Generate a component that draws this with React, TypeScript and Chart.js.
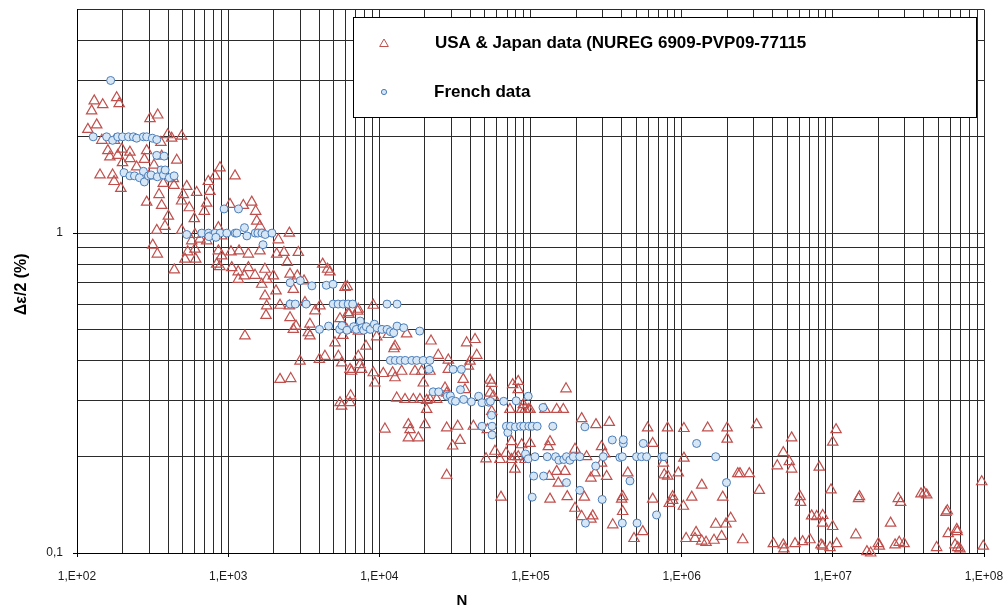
import React, { useEffect, useRef } from 'react';
import { Chart, registerables } from 'chart.js';

Chart.register(...registerables);

const FONT = '"Liberation Sans", Arial, Helvetica, sans-serif';

// ---------- axis ticks ----------
const xDecades = [1e2, 1e3, 1e4, 1e5, 1e6, 1e7, 1e8];
const xTickLabels = ['1,E+02', '1,E+03', '1,E+04', '1,E+05', '1,E+06', '1,E+07', '1,E+08'];
const minorSteps = [2, 3, 4, 5, 6, 7, 8, 9];
const yMajorValues = [0.1, 1];
const yTickLabels = ['0,1', '1'];
const yMinorValues = [0.2, 0.3, 0.4, 0.5, 0.6, 0.7, 0.8, 0.9, 2, 3, 4, 5];
const xMin = 1e2;
const xMax = 1e8;
const yMin = 0.1;
const yMax = 5;

// ---------- series labels ----------
const usaJapanLabel = 'USA & Japan data (NUREG 6909-PVP09-77115';
const frenchLabel = 'French data';
const xTitle = 'N';
const yTitle = 'Δε/2 (%)';

// ---------- USA & Japan data [N, strain amplitude %] ----------
const usaJapanDecade2: [number, number][] = [
  [130, 2.59], [148, 2.52], [125, 2.41], [183, 2.65], [190, 2.54], [304, 2.28], [342, 2.34], [118, 2.11],
  [135, 2.18], [146, 1.95], [160, 1.81], [165, 1.73], [177, 1.95], [198, 1.83], [186, 1.75], [224, 1.79],
  [224, 1.71], [200, 1.66], [279, 1.7], [323, 1.63], [363, 1.74], [398, 2.03], [423, 1.98], [492, 2.01],
  [457, 1.69], [359, 1.92], [142, 1.52], [172, 1.52], [176, 1.45], [195, 1.38], [248, 1.61], [299, 1.51],
  [434, 1.48], [372, 1.43], [438, 1.41], [739, 1.45], [532, 1.4], [619, 1.34], [758, 1.35], [349, 1.32],
  [289, 1.25], [363, 1.22], [505, 1.32], [492, 1.26], [553, 1.2], [721, 1.24], [695, 1.17], [597, 1.11],
  [402, 1.13], [382, 1.05], [337, 1.02], [492, 1.02], [603, 0.99], [651, 0.957], [574, 0.946], [861, 1.04],
  [906, 0.98], [721, 0.946], [317, 0.917], [340, 0.86], [540, 0.874], [603, 0.891], [610, 0.829], [518, 0.829],
  [440, 0.767], [861, 0.88], [906, 0.849], [839, 0.8], [880, 0.786], [883, 1.6], [818, 1.51], [289, 1.81],
];
const usaJapanDecade3: [number, number][] = [
  [1110, 1.51], [1028, 1.23], [1432, 1.25], [1260, 1.22], [1520, 1.17], [1545, 1.09], [1623, 1.05], [1044, 0.874],
  [1180, 0.88], [1360, 0.86], [1623, 0.88], [1056, 0.78], [1165, 0.757], [1360, 0.78], [1505, 0.738], [1750, 0.771],
  [1800, 0.717], [1167, 0.717], [1279, 0.735], [1667, 0.692], [1753, 0.636], [1798, 0.592], [1780, 0.553], [1990, 0.735],
  [2072, 0.66], [2094, 0.86], [2340, 0.87], [2461, 0.81], [2566, 0.744], [2911, 0.87], [2866, 0.735], [1291, 0.477],
  [2203, 0.349], [2593, 0.351], [2987, 0.398], [2697, 0.667], [2537, 0.592], [2566, 0.544], [2697, 0.5], [2810, 0.512],
  [3222, 0.607], [3388, 0.488], [3475, 0.477], [3752, 0.571], [4048, 0.592], [4218, 0.8], [4550, 0.771], [4367, 0.412],
  [5358, 0.412], [5636, 0.393], [5925, 0.676], [5090, 0.454], [5495, 0.295], [5636, 0.288], [6395, 0.375], [2540, 1.0],
  [2147, 0.953], [3175, 0.709], [2203, 0.595], [3475, 0.519], [5495, 0.54], [6240, 0.564], [7190, 0.57], [6080, 0.5],
  [7260, 0.494], [4010, 0.403], [7260, 0.412], [4717, 0.756], [6137, 0.68], [7255, 0.578], [9120, 0.595], [6280, 0.557],
  [5740, 0.479], [8160, 0.443], [9610, 0.474], [6560, 0.37], [7450, 0.388], [7640, 0.375], [9120, 0.366], [9330, 0.34],
  [6400, 0.295], [6460, 0.31],
];
const usaJapanDecade4: [number, number][] = [
  [11460, 0.482], [12700, 0.443], [12500, 0.435], [15160, 0.484], [21980, 0.46], [24530, 0.415], [28600, 0.401], [37800, 0.454],
  [42970, 0.465], [44100, 0.415], [39800, 0.398], [38800, 0.384], [35900, 0.349], [54000, 0.347], [76200, 0.336], [82900, 0.344],
  [82900, 0.324], [10620, 0.364], [12250, 0.366], [12700, 0.353], [14060, 0.37], [17200, 0.37], [19060, 0.37], [19540, 0.34],
  [21630, 0.37], [28600, 0.375], [13030, 0.305], [14790, 0.302], [16790, 0.302], [18570, 0.302], [20560, 0.3], [20560, 0.281],
  [21630, 0.302], [23960, 0.302], [27200, 0.328], [27900, 0.316], [36860, 0.324], [54000, 0.316], [55400, 0.339], [56800, 0.309],
  [96700, 0.281], [89600, 0.291], [10890, 0.244], [15560, 0.252], [15960, 0.243], [15560, 0.229], [18110, 0.229], [20050, 0.252],
  [27900, 0.246], [33000, 0.249], [34200, 0.225], [30550, 0.216], [41900, 0.249], [51800, 0.243], [55400, 0.277], [73100, 0.281],
  [87500, 0.281], [92000, 0.281], [99300, 0.281], [75000, 0.223], [87500, 0.218], [99300, 0.22], [50800, 0.197], [58200, 0.208],
  [62800, 0.196], [75000, 0.196], [78900, 0.2], [83000, 0.2], [92000, 0.196], [27900, 0.175], [78900, 0.183], [63800, 0.1495],
  [68900, 0.205],
];
const usaJapanDecade5: [number, number][] = [
  [171800, 0.326], [124700, 0.281], [149000, 0.281], [164900, 0.281], [218000, 0.263], [271000, 0.252], [332000, 0.256], [131200, 0.215],
  [134600, 0.223], [197000, 0.211], [235000, 0.2], [295000, 0.215], [310000, 0.204], [295000, 0.191], [595600, 0.246], [807000, 0.246],
  [643000, 0.22], [757000, 0.191], [133300, 0.1735], [149000, 0.18], [152800, 0.1654], [169000, 0.18], [175000, 0.15], [197000, 0.138],
  [227000, 0.1495], [251000, 0.1715], [267000, 0.178], [258000, 0.1306], [251000, 0.1276], [319000, 0.1735], [350000, 0.1225], [401000, 0.1474],
  [407000, 0.1348], [440000, 0.178], [484000, 0.111], [553000, 0.1166], [643000, 0.1474], [767000, 0.1756], [808000, 0.174], [828000, 0.143],
  [134600, 0.1474], [218000, 0.13], [407000, 0.15], [950000, 0.178], [871000, 0.15], [871000, 0.146],
];
const usaJapanDecade6: [number, number][] = [
  [1.035e6, 0.245], [1.486e6, 0.246], [2.0e6, 0.246], [3.13e6, 0.252], [2.0e6, 0.227], [1.035e6, 0.198], [1.026e6, 0.14], [1.165e6, 0.1495],
  [1.358e6, 0.163], [1.868e6, 0.1495], [2.11e6, 0.1284], [1.963e6, 0.1232], [1.68e6, 0.123], [1.837e6, 0.1127], [1.637e6, 0.1096], [1.07e6, 0.111],
  [1.225e6, 0.111], [1.245e6, 0.116], [1.358e6, 0.109], [1.45e6, 0.108], [2.535e6, 0.11], [3.26e6, 0.157], [2.43e6, 0.177], [2.8e6, 0.177],
  [2.35e6, 0.177], [4.04e6, 0.107], [4.7e6, 0.106], [4.75e6, 0.103], [5.62e6, 0.107], [6.31e6, 0.1085], [7.06e6, 0.11], [8.35e6, 0.106],
  [8.57e6, 0.105], [9.58e6, 0.104], [4.7e6, 0.206], [5.15e6, 0.193], [5.34e6, 0.183], [5.34e6, 0.229], [4.29e6, 0.1873], [6.07e6, 0.15],
  [6.12e6, 0.144], [7.24e6, 0.1306], [7.82e6, 0.13], [8.57e6, 0.131], [8.57e6, 0.124], [8.13e6, 0.1856], [9.98e6, 0.222], [9.72e6, 0.1575],
  [9.98e6, 0.121],
];
const usaJapanDecade7: [number, number][] = [
  [10.6e6, 0.107], [10.5e6, 0.243], [14.2e6, 0.114], [15e6, 0.15], [14.8e6, 0.148], [16.8e6, 0.101], [17.8e6, 0.1], [20e6, 0.107],
  [20.3e6, 0.105], [24.1e6, 0.124], [27.1e6, 0.148], [28.1e6, 0.144], [25.8e6, 0.106], [27.5e6, 0.108], [29.6e6, 0.107], [38.3e6, 0.153],
  [40.3e6, 0.154], [41.8e6, 0.152], [48.6e6, 0.104], [56.1e6, 0.134], [57.2e6, 0.1355], [58e6, 0.115], [66e6, 0.1185], [66.5e6, 0.1166],
  [64.3e6, 0.106], [67e6, 0.104], [69.3e6, 0.103], [96.6e6, 0.167], [98.9e6, 0.105],
];

// ---------- French data [N, strain amplitude %] ----------
const frenchDecade2: [number, number][] = [
  [167, 3.0], [128, 2.0], [157, 2.0], [172, 1.95], [186, 2.0], [200, 2.0], [219, 2.0], [236, 2.0],
  [248, 1.98], [275, 2.0], [289, 2.0], [315, 1.98], [337, 1.96], [337, 1.75], [377, 1.74], [205, 1.545],
  [224, 1.51], [240, 1.51], [259, 1.49], [275, 1.56], [279, 1.445], [297, 1.51], [309, 1.52], [340, 1.5],
  [360, 1.575], [373, 1.52], [383, 1.575], [408, 1.49], [439, 1.51], [940, 1.19], [532, 0.99], [669, 1.0],
  [741, 1.0], [760, 0.98], [820, 1.0], [885, 1.0], [979, 1.0], [745, 0.975], [830, 0.97],
];
const frenchDecade3: [number, number][] = [
  [1170, 1.19], [1112, 1.0], [1142, 1.0], [1282, 1.04], [1330, 0.98], [1510, 1.0], [1573, 1.0], [1672, 1.0],
  [1758, 0.99], [1949, 1.0], [1700, 0.92], [2570, 0.7], [3000, 0.71], [3580, 0.684], [4460, 0.687], [4940, 0.692],
  [2570, 0.6], [2780, 0.6], [3280, 0.6], [4950, 0.6], [5340, 0.6], [5760, 0.6], [6220, 0.6], [6660, 0.6],
  [4020, 0.5], [4620, 0.512], [5460, 0.5], [5660, 0.514], [6110, 0.497], [6760, 0.51], [7050, 0.5], [7480, 0.531],
  [7690, 0.506], [7870, 0.497], [8200, 0.51], [8710, 0.5], [9270, 0.519], [9660, 0.506],
];
const frenchDecade4: [number, number][] = [
  [11240, 0.6], [13100, 0.6], [10420, 0.5], [11250, 0.5], [11830, 0.492], [12450, 0.488], [13100, 0.512], [14500, 0.506],
  [18500, 0.494], [11830, 0.4], [12760, 0.4], [13760, 0.4], [14840, 0.4], [16400, 0.4], [17670, 0.4], [19500, 0.4],
  [21600, 0.4], [21300, 0.375], [30760, 0.375], [34900, 0.375], [22700, 0.319], [24700, 0.319], [28100, 0.309], [29500, 0.31],
  [30300, 0.2996], [31900, 0.298], [34400, 0.324], [36100, 0.302], [40600, 0.297], [45400, 0.309], [47800, 0.295], [52900, 0.296],
  [54300, 0.298], [66500, 0.298], [80400, 0.299], [96600, 0.309], [55200, 0.2695], [47800, 0.249], [55700, 0.249], [55700, 0.234],
  [69300, 0.249], [70800, 0.238], [73700, 0.249], [79500, 0.248], [85900, 0.249], [90300, 0.249], [97500, 0.249], [92700, 0.204],
  [96600, 0.197],
];
const frenchDecade5: [number, number][] = [
  [121000, 0.285], [102600, 0.249], [110700, 0.249], [140500, 0.249], [229000, 0.248], [107000, 0.2], [129000, 0.2], [146500, 0.2],
  [154000, 0.195], [166000, 0.196], [173000, 0.2], [182000, 0.195], [192000, 0.2], [212000, 0.2], [303000, 0.2], [390000, 0.199],
  [405000, 0.2], [503000, 0.2], [543000, 0.2], [586000, 0.2], [738000, 0.2], [764000, 0.2], [1.68e6, 0.2], [270000, 0.187],
  [347500, 0.2256], [411000, 0.22], [411000, 0.226], [557000, 0.22], [1.256e6, 0.22], [173000, 0.166], [212000, 0.157], [298000, 0.147],
  [455000, 0.168], [682000, 0.1315], [231000, 0.124], [405000, 0.124], [507000, 0.124], [1.98e6, 0.166], [105000, 0.174], [122000, 0.174],
  [102600, 0.1495],
];

const usaJapanPoints = [
  ...usaJapanDecade2, ...usaJapanDecade3, ...usaJapanDecade4,
  ...usaJapanDecade5, ...usaJapanDecade6, ...usaJapanDecade7,
];
const frenchPoints = [...frenchDecade2, ...frenchDecade3, ...frenchDecade4, ...frenchDecade5];

// ---------- styles ----------
const triangleColor = '#C0504D';
const circleBorder = '#4A7EBB';
const circleFill = '#D6E6F4';
const gridColor = '#2b2b2b';

const near = (a: number, b: number) => Math.abs(a - b) <= Math.abs(b) * 1e-9;

const xTickValues: number[] = [];
xDecades.forEach((d, i) => {
  xTickValues.push(d);
  if (i < xDecades.length - 1) minorSteps.forEach((m) => xTickValues.push(d * m));
});
const yTickValues = [...yMajorValues, ...yMinorValues].sort((a, b) => a - b);

const xLabelFor = (v: number) => {
  const i = xDecades.findIndex((d) => near(v, d));
  return i >= 0 ? xTickLabels[i] : '';
};
const yLabelFor = (v: number) => {
  const i = yMajorValues.findIndex((d) => near(v, d));
  return i >= 0 ? yTickLabels[i] : '';
};

const clearScalePadding = (scale: any) => {
  scale.paddingTop = 0;
  scale.paddingBottom = 0;
  scale.paddingLeft = 0;
  scale.paddingRight = 0;
};

const overlayPlugin = {
  id: 'overlay',
  afterDraw(chart: any) {
    const ctx: CanvasRenderingContext2D = chart.ctx;
    const area = chart.chartArea;
    ctx.save();

    // axis titles
    ctx.fillStyle = '#000';
    ctx.font = `bold 15px ${FONT}`;
    ctx.textAlign = 'center';
    ctx.textBaseline = 'middle';
    ctx.fillText(xTitle, 462, 601);
    ctx.save();
    ctx.translate(22, (area.top + area.bottom) / 2 + 3);
    ctx.rotate(-Math.PI / 2);
    ctx.font = `bold 16px ${FONT}`;
    ctx.fillText(yTitle, 0, 0);
    ctx.restore();

    // legend box
    const bx = 353.5, by = 17.5, bw = 623, bh = 100;
    ctx.fillStyle = '#fff';
    ctx.fillRect(bx, by, bw, bh);
    ctx.strokeStyle = '#000';
    ctx.lineWidth = 1;
    ctx.strokeRect(bx, by, bw, bh);

    const ds = chart.data.datasets;
    // triangle marker
    const tx = 384, ty = 43, r = 5;
    ctx.beginPath();
    for (let k = 0; k < 3; k++) {
      const a = -Math.PI / 2 + (k * 2 * Math.PI) / 3;
      const px = tx + Math.cos(a) * r;
      const py = ty + 1 + Math.sin(a) * r;
      if (k === 0) ctx.moveTo(px, py);
      else ctx.lineTo(px, py);
    }
    ctx.closePath();
    ctx.strokeStyle = triangleColor;
    ctx.lineWidth = 1;
    ctx.stroke();
    // circle marker
    ctx.beginPath();
    ctx.arc(384, 92, 2.6, 0, Math.PI * 2);
    ctx.fillStyle = circleFill;
    ctx.fill();
    ctx.strokeStyle = circleBorder;
    ctx.stroke();

    ctx.fillStyle = '#000';
    ctx.font = `bold 17px ${FONT}`;
    ctx.textAlign = 'left';
    ctx.textBaseline = 'middle';
    ctx.fillText(ds[1].label, 435, 43);
    ctx.fillText(ds[0].label, 434, 92);

    ctx.restore();
  },
};

export default function App() {
  const canvasRef = useRef<HTMLCanvasElement | null>(null);

  useEffect(() => {
    const canvas = canvasRef.current;
    if (!canvas) return;
    const chart = new Chart(canvas, {
      type: 'scatter',
      data: {
        datasets: [
          {
            label: frenchLabel,
            data: frenchPoints.map(([x, y]) => ({ x, y })),
            pointStyle: 'circle',
            pointRadius: 4,
            borderWidth: 1,
            borderColor: circleBorder,
            backgroundColor: circleFill,
            order: 1,
            clip: false as any,
          },
          {
            label: usaJapanLabel,
            data: usaJapanPoints.map(([x, y]) => ({ x, y })),
            pointStyle: 'triangle',
            pointRadius: 6,
            borderWidth: 1.2,
            borderColor: triangleColor,
            backgroundColor: 'rgba(255,255,255,0)',
            order: 2,
            clip: false as any,
          },
        ],
      },
      options: {
        responsive: false,
        maintainAspectRatio: false,
        animation: false,
        events: [],
        layout: { padding: { top: 9.5, right: 21, left: 0, bottom: 0 } },
        plugins: {
          legend: { display: false },
          tooltip: { enabled: false },
          title: { display: false },
        },
        scales: {
          x: {
            type: 'logarithmic',
            min: xMin,
            max: xMax,
            afterBuildTicks: (scale: any) => {
              scale.ticks = xTickValues.map((v) => ({ value: v }));
            },
            afterFit: (scale: any) => {
              scale.height = 56;
              clearScalePadding(scale);
            },
            ticks: {
              autoSkip: false,
              maxRotation: 0,
              minRotation: 0,
              padding: 12,
              color: '#1a1a1a',
              font: { family: FONT, size: 12 },
              callback: (v: any) => xLabelFor(Number(v)),
            },
            grid: {
              color: gridColor,
              lineWidth: 1,
              tickLength: 4,
              tickColor: (c: any) => (c.tick && xLabelFor(c.tick.value) ? '#000' : 'rgba(0,0,0,0)'),
            },
            border: { color: '#000', width: 1 },
          },
          y: {
            type: 'logarithmic',
            min: yMin,
            max: yMax,
            afterBuildTicks: (scale: any) => {
              scale.ticks = yTickValues.map((v) => ({ value: v }));
            },
            afterFit: (scale: any) => {
              scale.width = 77;
              clearScalePadding(scale);
            },
            ticks: {
              autoSkip: false,
              padding: 10,
              color: '#1a1a1a',
              font: { family: FONT, size: 12 },
              callback: (v: any) => yLabelFor(Number(v)),
            },
            grid: {
              color: gridColor,
              lineWidth: 1,
              tickLength: 4,
              tickColor: (c: any) => (c.tick && yLabelFor(c.tick.value) ? '#000' : 'rgba(0,0,0,0)'),
            },
            border: { color: '#000', width: 1 },
          },
        },
      },
      plugins: [overlayPlugin],
    } as any);
    return () => chart.destroy();
  }, []);

  return (
    <div style={{ position: 'fixed', left: 0, top: 0, width: 1005, height: 609, background: '#fff' }}>
      <canvas ref={canvasRef} width={1005} height={609} style={{ display: 'block', width: 1005, height: 609 }} />
    </div>
  );
}
